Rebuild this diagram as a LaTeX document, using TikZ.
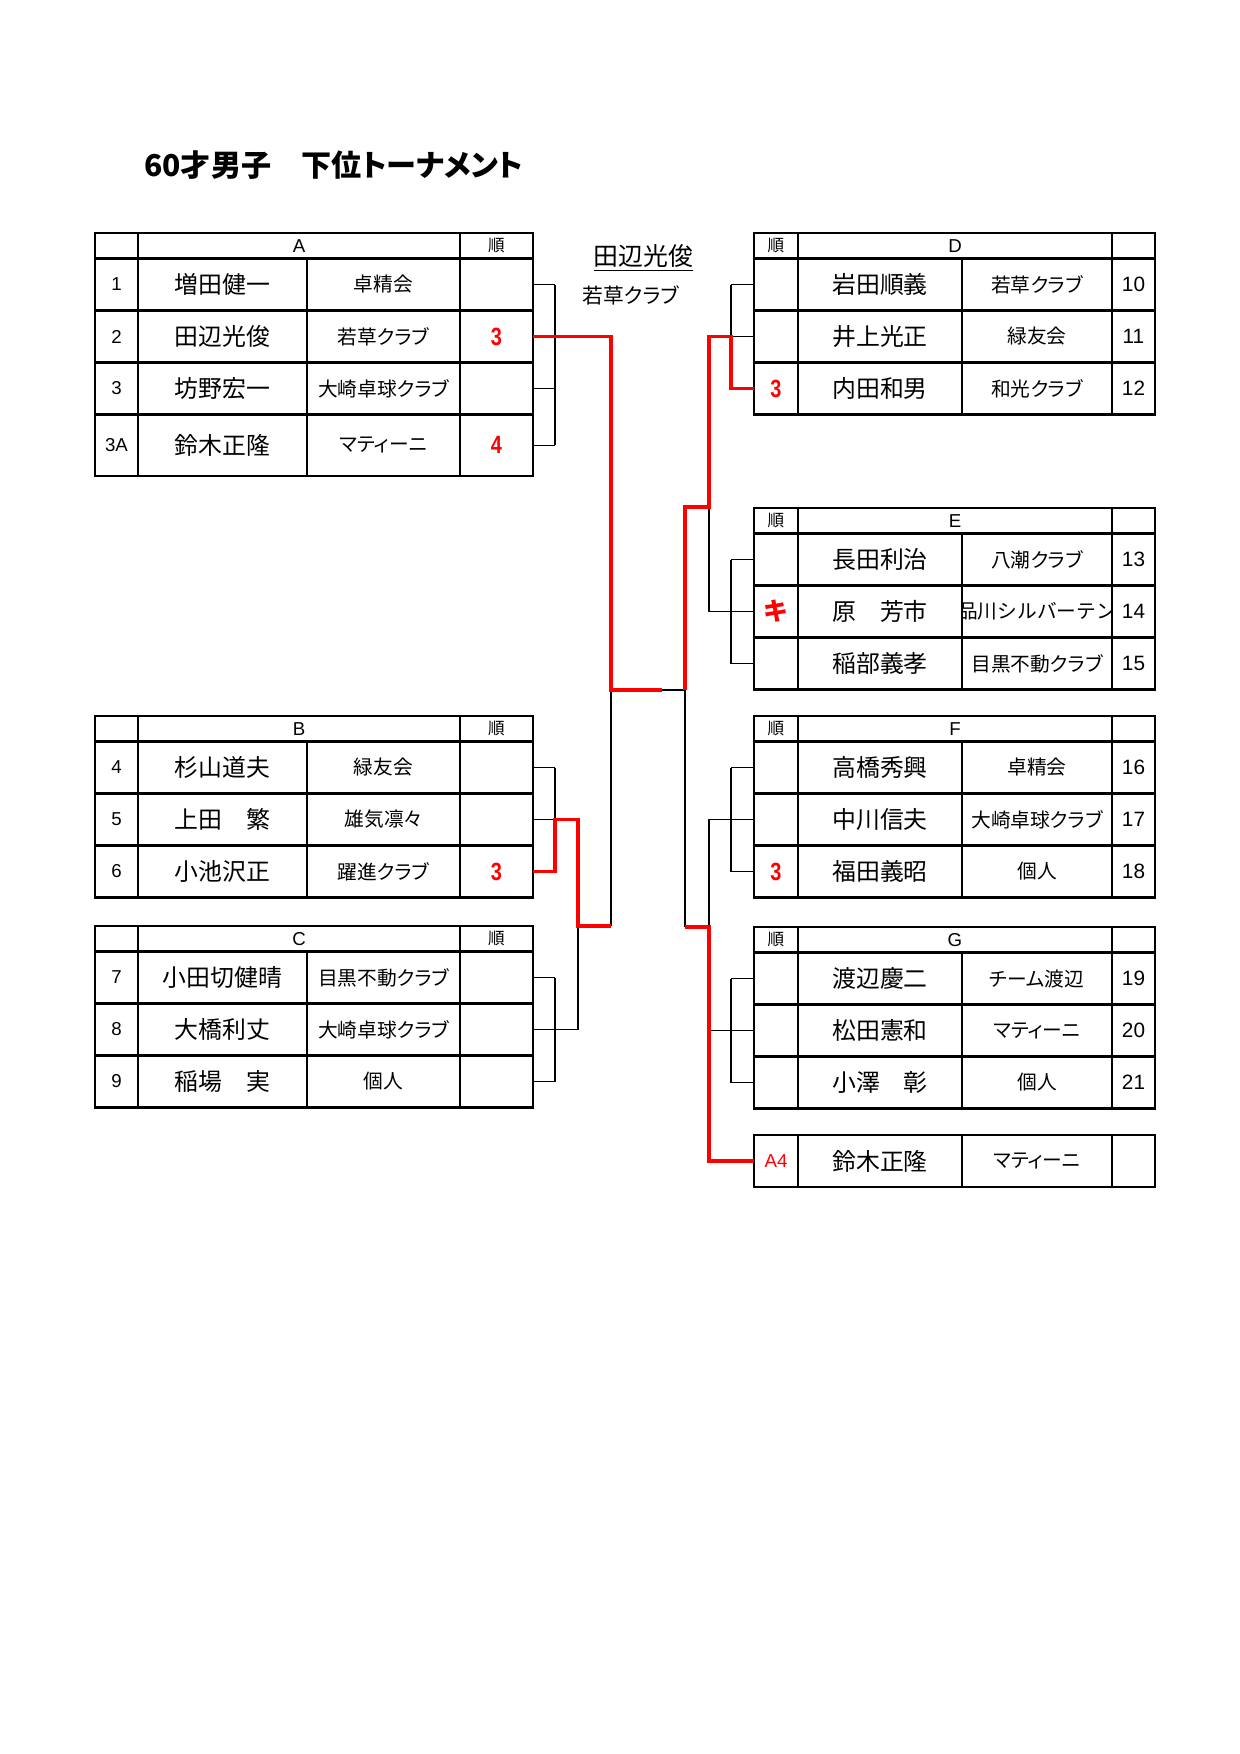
\documentclass[tikz,border=0pt]{standalone}
\usepackage{fontspec}
\setmainfont{Liberation Sans}
\newfontfamily\jp{Noto Sans CJK JP}
\newfontfamily\jpp[RawFeature=+palt]{Noto Sans CJK JP}
\newcommand{\rk}[1]{\scalebox{0.8}[1]{\bfseries #1}}

\tikzset{
    tbl/.style={line width=1.05pt},
    brk/.style={line width=0.7pt},
    win/.style={red, line width=1.6pt},
    nm/.style={font=\jp\fontsize{11.5}{12}\selectfont},
    cl/.style={font=\jpp\fontsize{9.5}{10}\selectfont},
    no/.style={font=\fontsize{9}{10}\selectfont},
    rno/.style={font=\fontsize{10}{11}\selectfont},
    hd/.style={font=\fontsize{9}{10}\selectfont},
    jun/.style={font=\jp\fontsize{8}{9}\selectfont},
    rank/.style={text=red, font=\fontsize{12}{12}\selectfont}
}

\begin{document}
\begin{tikzpicture}[x=0.16935mm,y=-0.16935mm]
    \useasboundingbox (0,0) rectangle (1240,1754);
    \node[anchor=west, font=\jpp\bfseries\fontsize{14.5}{15}\selectfont] (title) at (137,165) {60才男子　下位トーナメント};
    %left tables
    \foreach \g/\ya/\yb in {A/233/476, B/716/897.5, C/926/1107.5} {
        \draw[tbl] (95,\ya) rectangle (533,\yb);
        \draw[tbl] (138,\ya) -- (138,\yb) (460,\ya) -- (460,\yb) (307,\ya+25.5) -- (307,\yb);
        \node[hd] (hd\g) at (299,\ya+12.75) {\g};
        \node[jun] (jun\g) at (496.5,\ya+12.75) {順};
    }
    \foreach \n/\nm/\cl/\ya/\yb in {1/増田健一/卓精会/258.5/310.5, 2/田辺光俊/若草クラブ/310.5/362.5,
            3/坊野宏一/大崎卓球クラブ/362.5/414.5, 3A/鈴木正隆/マティーニ/414.5/476,
            4/杉山道夫/緑友会/741.5/793.5, 5/上田　繁/雄気凛々/793.5/845.5, 6/小池沢正/躍進クラブ/845.5/897.5,
            7/小田切健晴/目黒不動クラブ/951.5/1003.5, 8/大橋利丈/大崎卓球クラブ/1003.5/1055.5, 9/稲場　実/個人/1055.5/1107.5} {
        \draw[tbl] (95,\ya) -- (533,\ya);
        \node[no] (no\n) at (116.5,{(\ya+\yb)/2}) {\n};
        \node[nm] (nm\n) at (222.5,{(\ya+\yb)/2}) {\nm};
        \node[cl] (cl\n) at (383.5,{(\ya+\yb)/2}) {\cl};
        \coordinate (p\n) at (533,{(\ya+\yb)/2});
    }
    %right tables
    \foreach \g/\ya/\yb in {D/233/414.5, E/508/689.5, F/716/897.5, G/927/1108.5} {
        \draw[tbl] (754,\ya) rectangle (1155,\yb);
        \draw[tbl] (798,\ya) -- (798,\yb) (1112,\ya) -- (1112,\yb) (962,\ya+25.5) -- (962,\yb);
        \node[hd] (hd\g) at (955,\ya+12.75) {\g};
        \node[jun] (jun\g) at (776,\ya+12.75) {順};
    }
    \foreach \n/\nm/\cl/\ya/\yb in {10/岩田順義/若草クラブ/258.5/310.5, 11/井上光正/緑友会/310.5/362.5, 12/内田和男/和光クラブ/362.5/414.5,
            13/長田利治/八潮クラブ/533.5/585.5, 14/原　芳市/{\jp 品川シルバーテン}/585.5/637.5, 15/稲部義孝/目黒不動クラブ/637.5/689.5,
            16/高橋秀興/卓精会/741.5/793.5, 17/中川信夫/大崎卓球クラブ/793.5/845.5, 18/福田義昭/個人/845.5/897.5,
            19/渡辺慶二/チーム渡辺/952.5/1004.5, 20/松田憲和/マティーニ/1004.5/1056.5, 21/小澤　彰/個人/1056.5/1108.5} {
        \draw[tbl] (754,\ya) -- (1155,\ya);
        \node[nm] (nm\n) at (880,{(\ya+\yb)/2}) {\nm};
        \begin{scope}
            \clip (962,\ya) rectangle (1112,\yb);
            \node[cl] (cl\n) at (1037,{(\ya+\yb)/2}) {\cl};
        \end{scope}
        \node[rno] (no\n) at (1133.5,{(\ya+\yb)/2}) {\n};
        \coordinate (p\n) at (754,{(\ya+\yb)/2});
    }
    \draw[tbl] (754,1135) rectangle (1155,1187);
    \draw[tbl] (798,1135) -- (798,1187) (962,1135) -- (962,1187) (1112,1135) -- (1112,1187);
    \node[nm] (nmA4) at (880,1161) {鈴木正隆};
    \node[cl] (clA4) at (1037,1161) {マティーニ};
    \coordinate (pA4) at (754,1161);
    %ranks
    \node[rank] (rk2) at (496.5,336.5) {\rk{3}};
    \node[rank] (rk3A) at (496.5,445.25) {\rk{4}};
    \node[rank] (rk6) at (496.5,871.5) {\rk{3}};
    \node[rank] (rk12) at (776,388.5) {\rk{3}};
    \node[rank, font=\jp\bfseries\fontsize{12}{12}\selectfont] (rk14) at (776,611.5) {キ};
    \node[rank] (rk18) at (776,871.5) {\rk{3}};
    \node[rank, font=\fontsize{9}{10}\selectfont] (rkA4) at (776,1161) {A4};
    %winner
    \node[font=\jp\fontsize{12}{12}\selectfont] (champ) at (643.5,258) {\underline{田辺光俊}};
    \node[font=\jpp\fontsize{10}{10}\selectfont] (champcl) at (631,295) {若草クラブ};
    %brackets
    \coordinate (lx) at (555,0);
    \coordinate (rx) at (731,0);
    \coordinate (ml) at (611,690);
    \coordinate (fin) at (662,690);
    \coordinate (mr) at (685,690);
    \coordinate (bc) at (578,926);
    \coordinate (de) at (709,507);
    \coordinate (fg) at (709,927);
    \foreach \k in {1,2,3,3A,4,5,6,7,8,9} \draw[brk] (p\k) -- (p\k -| lx);
    \foreach \k in {10,11,12,13,14,15,16,17,18,19,20,21} \draw[brk] (p\k) -- (p\k -| rx);
    \draw[brk] (p1 -| lx) -- (p3A -| lx) (p4 -| lx) -- (p6 -| lx) (p7 -| lx) -- (p9 -| lx);
    \draw[brk] (p10 -| rx) -- (p12 -| rx) (p13 -| rx) -- (p15 -| rx) (p16 -| rx) -- (p18 -| rx) (p19 -| rx) -- (p21 -| rx);
    \draw[brk] (p8 -| lx) -- (p8 -| bc) -- (bc);
    \draw[brk] (bc -| ml) -- (ml);
    \draw[brk] (fin) -- (mr) -- (fg -| mr);
    \draw[brk] (p14 -| rx) -- (p14 -| de) -- (de);
    \draw[brk] (p17 -| rx) -- (p17 -| fg) -- (fg);
    \draw[brk] (p20 -| rx) -- (p20 -| fg);
    \draw[win] (p2) -- (p2 -| ml) -- (ml) -- (fin);
    \draw[win] (p6) -- (p6 -| lx) -- (p5 -| lx) -- (p5 -| bc) -- (bc) -- (bc -| ml);
    \draw[win] (p12) -- (p12 -| rx) -- (p11 -| rx) -- (p11 -| de) -- (de) -- (de -| mr) -- (mr);
    \draw[win] (fg -| mr) -- (fg) -- (pA4 -| fg) -- (pA4);
\end{tikzpicture}
\end{document}
